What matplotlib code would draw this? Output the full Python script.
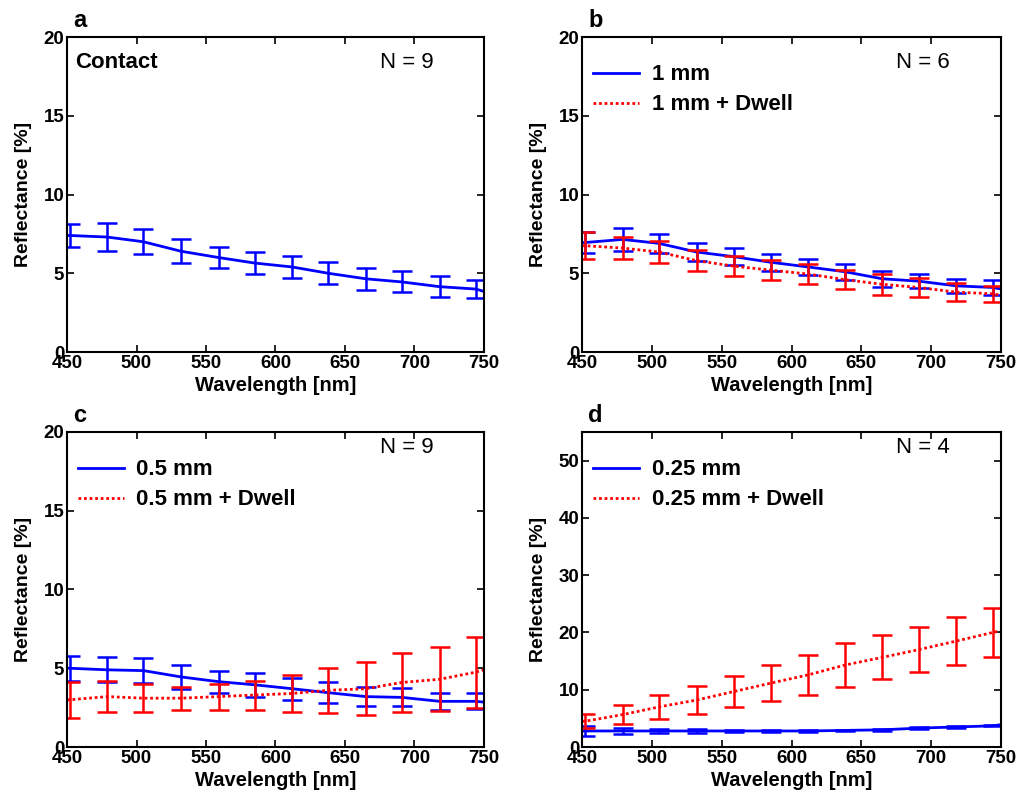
import numpy as np
import matplotlib
matplotlib.use("Agg")
import matplotlib.pyplot as plt

plt.rcParams['font.family'] = ['Liberation Sans', 'DejaVu Sans']

# wavelengths of the error bars [nm]
wl = [452, 479, 505, 532, 559, 585, 612, 638, 665, 691, 718, 744]

# a: contact
a_mean = [7.4, 7.3, 7.0, 6.4, 6.0, 5.65, 5.4, 5.0, 4.65, 4.45, 4.15, 4.0]
a_err = [0.7, 0.9, 0.8, 0.75, 0.65, 0.7, 0.7, 0.7, 0.7, 0.67, 0.67, 0.6]
a_end = 3.85

# b: 1 mm
b_mean = [6.95, 7.15, 6.9, 6.35, 6.05, 5.7, 5.4, 5.1, 4.65, 4.5, 4.2, 4.1]
b_err = [0.65, 0.75, 0.6, 0.55, 0.55, 0.55, 0.5, 0.5, 0.5, 0.45, 0.43, 0.45]
b_end = 4.0
bd_mean = [6.75, 6.6, 6.35, 5.8, 5.45, 5.2, 4.95, 4.6, 4.3, 4.1, 3.8, 3.7]
bd_err = [0.85, 0.7, 0.7, 0.65, 0.65, 0.63, 0.65, 0.58, 0.66, 0.6, 0.58, 0.5]
bd_end = 3.6

# c: 0.5 mm
c_mean = [5.0, 4.9, 4.85, 4.45, 4.15, 3.95, 3.7, 3.45, 3.2, 3.15, 2.9, 2.9]
c_err = [0.8, 0.8, 0.8, 0.75, 0.7, 0.75, 0.7, 0.65, 0.6, 0.57, 0.55, 0.5]
c_end = 2.85
cd_mean = [3.0, 3.2, 3.1, 3.1, 3.2, 3.3, 3.4, 3.6, 3.7, 4.1, 4.3, 4.75]
cd_err = [1.15, 1.0, 0.87, 0.72, 0.82, 0.92, 1.15, 1.42, 1.68, 1.86, 2.02, 2.25]
cd_end = 4.9

# d: 0.25 mm
d_mean = [2.8, 2.8, 2.8, 2.8, 2.8, 2.8, 2.8, 2.9, 3.0, 3.3, 3.5, 3.7]
d_err = [0.8, 0.6, 0.35, 0.4, 0.25, 0.2, 0.25, 0.1, 0.12, 0.15, 0.15, 0.1]
d_end = 3.9
dd_mean = [4.5, 5.65, 7.0, 8.2, 9.7, 11.15, 12.6, 14.3, 15.65, 17.0, 18.5, 20.0]
dd_err = [1.2, 1.65, 2.1, 2.45, 2.7, 3.15, 3.55, 3.8, 3.85, 3.9, 4.15, 4.3]
dd_end = 20.3

BLUE = '#0000ff'
RED = '#ff0000'


def curve(ax, mean, err, end, color, ls, label=None):
    """ Linie von 450 bis 750 nm plus Fehlerbalken """
    x = [450] + wl + [750]
    y = [mean[0]] + mean + [end]
    ax.plot(x, y, color=color, ls=ls, lw=2, label=label)
    ax.errorbar(wl, mean, yerr=err, fmt='none', ecolor=color,
                elinewidth=1.8, capsize=7, capthick=1.8)


def style(ax, ymax, yticks, letter, n, ny):
    ax.set_xlim(450, 750)
    ax.set_ylim(0, ymax)
    ax.set_xticks([450, 500, 550, 600, 650, 700, 750])
    ax.set_yticks(yticks)
    ax.tick_params(direction='in', top=True, right=True, length=5, width=1.2,
                   labelsize=13.5, pad=2)
    for lab in ax.get_xticklabels() + ax.get_yticklabels():
        lab.set_fontweight('bold')
    for s in ax.spines.values():
        s.set_linewidth(1.5)
    ax.set_xlabel('Wavelength [nm]', fontsize=14.5, fontweight='bold', labelpad=3)
    ax.set_ylabel('Reflectance [%]', fontsize=14, fontweight='bold', labelpad=8)
    ax.text(0.015, 1.015, letter, transform=ax.transAxes, fontsize=17,
            fontweight='bold', ha='left', va='bottom')
    ax.text(675, ny, 'N = %d' % n, fontsize=16, ha='left', va='center')


fig = plt.figure(figsize=(10.23, 8.01), dpi=100)
ax_a = fig.add_axes([0.0655, 0.5605, 0.4076, 0.3933])
ax_b = fig.add_axes([0.569, 0.5605, 0.4096, 0.3933])
ax_c = fig.add_axes([0.0655, 0.0674, 0.4076, 0.3933])
ax_d = fig.add_axes([0.569, 0.0674, 0.4096, 0.3933])

curve(ax_a, a_mean, a_err, a_end, BLUE, '-')
style(ax_a, 20, [0, 5, 10, 15, 20], 'a', 9, 18.4)
ax_a.text(0.02, 0.918, 'Contact', transform=ax_a.transAxes, fontsize=16,
          fontweight='bold', ha='left', va='center')

curve(ax_b, b_mean, b_err, b_end, BLUE, '-', '1 mm')
curve(ax_b, bd_mean, bd_err, bd_end, RED, (0, (1, 1)), '1 mm + Dwell')
style(ax_b, 20, [0, 5, 10, 15, 20], 'b', 6, 18.4)

curve(ax_c, c_mean, c_err, c_end, BLUE, '-', '0.5 mm')
curve(ax_c, cd_mean, cd_err, cd_end, RED, (0, (1, 1)), '0.5 mm + Dwell')
style(ax_c, 20, [0, 5, 10, 15, 20], 'c', 9, 19.0)

curve(ax_d, d_mean, d_err, d_end, BLUE, '-', '0.25 mm')
curve(ax_d, dd_mean, dd_err, dd_end, RED, (0, (1, 1)), '0.25 mm + Dwell')
style(ax_d, 55, [0, 10, 20, 30, 40, 50], 'd', 4, 52.3)

for ax in [ax_b, ax_c, ax_d]:
    ax.legend(loc='upper left', bbox_to_anchor=(0.02, 0.92), frameon=False,
              handlelength=2.1, handletextpad=0.55, borderaxespad=0,
              borderpad=0.1, labelspacing=0.4,
              prop={'size': 16, 'weight': 'bold'})

fig.savefig('out.png', dpi=100)
